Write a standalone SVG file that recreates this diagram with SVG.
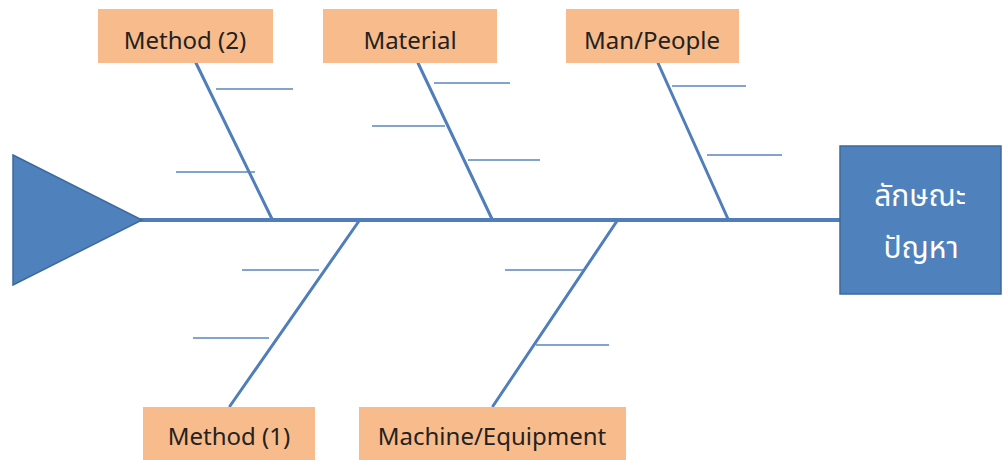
<svg xmlns="http://www.w3.org/2000/svg" width="1003" height="460" viewBox="0 0 1003 460">
<style>
.cat{fill:#F8BB8C;}
.lbl{font-family:"Noto Sans","Liberation Sans",sans-serif;font-size:24px;fill:#222;text-anchor:middle;}
.bone{stroke:#4F7EBB;stroke-width:3;stroke-linecap:round;fill:none;}
.tick{stroke:#5A86BE;stroke-width:1.6;fill:none;}
.spine{stroke:#4F7EBB;stroke-width:4;fill:none;}
.eff{font-family:"Noto Sans","Noto Sans Thai","DejaVu Sans",sans-serif;font-size:30px;fill:#fff;text-anchor:middle;}
</style>
<rect width="1003" height="460" fill="#fff"/>
<g id="connectors">
<line class="spine" x1="140" y1="220" x2="842" y2="220"/>
<line class="bone" x1="196" y1="63" x2="272" y2="219"/>
<line class="bone" x1="418" y1="63" x2="492" y2="219"/>
<line class="bone" x1="658" y1="63" x2="728" y2="219"/>
<line class="bone" x1="359" y1="221" x2="230" y2="406"/>
<line class="bone" x1="617" y1="221" x2="493" y2="406"/>
<line class="tick" x1="216" y1="89" x2="293" y2="89"/>
<line class="tick" x1="176" y1="172" x2="255" y2="172"/>
<line class="tick" x1="434" y1="83" x2="510" y2="83"/>
<line class="tick" x1="372" y1="126" x2="445" y2="126"/>
<line class="tick" x1="468" y1="160" x2="540" y2="160"/>
<line class="tick" x1="672" y1="86" x2="746" y2="86"/>
<line class="tick" x1="707" y1="155" x2="782" y2="155"/>
<line class="tick" x1="242" y1="270" x2="319" y2="270"/>
<line class="tick" x1="193" y1="338" x2="269" y2="338"/>
<line class="tick" x1="505" y1="270" x2="583" y2="270"/>
<line class="tick" x1="536" y1="345" x2="609" y2="345"/>
</g>
<g id="head">
<polygon points="13,155 142,220 13,285" fill="#4F81BD" stroke="#3C6A9E" stroke-width="1.5"/>
</g>
<g id="method2">
<rect class="cat" x="98" y="9" width="175" height="54"/>
<text class="lbl" x="185" y="49">Method (2)</text>
</g>
<g id="material">
<rect class="cat" x="323" y="9" width="174" height="54"/>
<text class="lbl" x="410" y="49">Material</text>
</g>
<g id="man">
<rect class="cat" x="566" y="9" width="173" height="54"/>
<text class="lbl" x="652" y="49">Man/People</text>
</g>
<g id="method1">
<rect class="cat" x="143" y="407" width="172" height="53"/>
<text class="lbl" x="229" y="445">Method (1)</text>
</g>
<g id="machine">
<rect class="cat" x="359" y="407" width="267" height="53"/>
<text class="lbl" x="492" y="445">Machine/Equipment</text>
</g>
<g id="effect">
<rect x="840" y="146" width="161" height="148" fill="#4F81BD" stroke="#3C6A9E" stroke-width="1.5"/>
<text class="eff" x="920" y="206">ลักษณะ</text>
<text class="eff" x="921" y="258">ปัญหา</text>
</g>
</svg>
